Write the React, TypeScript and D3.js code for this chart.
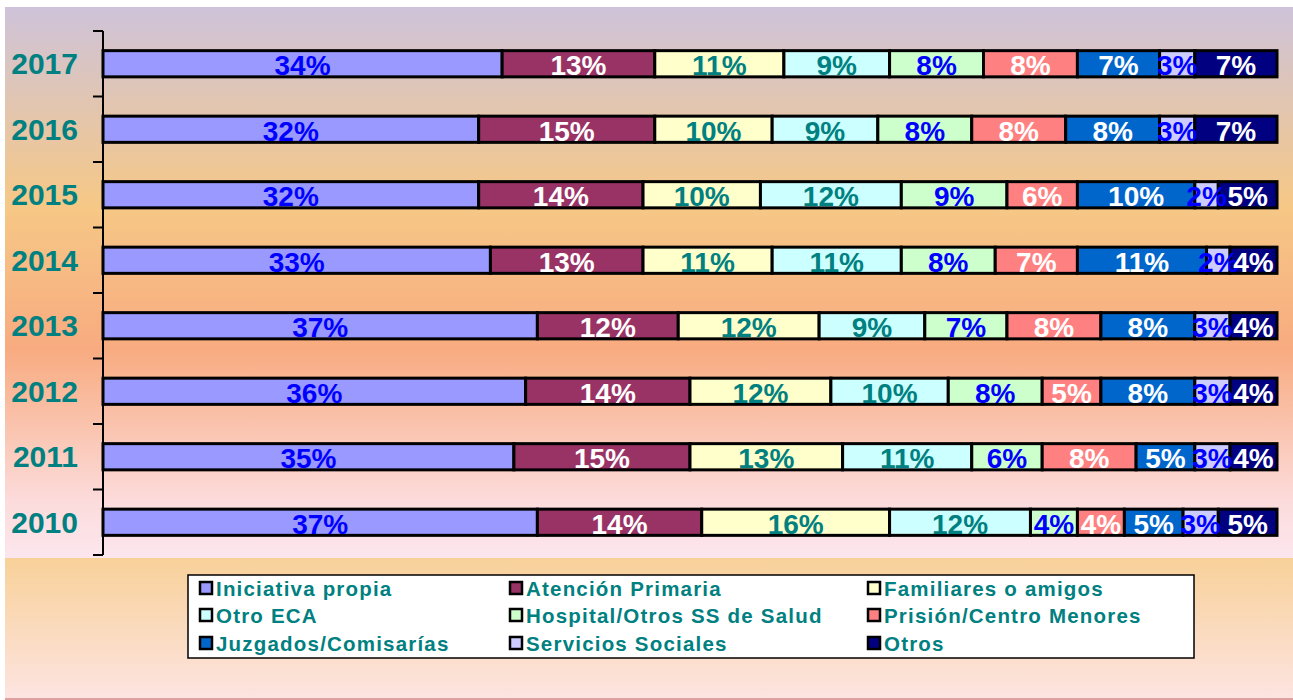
import * as d3 from "d3";
import React from "react";

// years top to bottom
const years = ["2017", "2016", "2015", "2014", "2013", "2012", "2011", "2010"];

const seriesNames = [
	"Iniciativa propia",
	"Atención Primaria",
	"Familiares o amigos",
	"Otro ECA",
	"Hospital/Otros SS de Salud",
	"Prisión/Centro Menores",
	"Juzgados/Comisarías",
	"Servicios Sociales",
	"Otros",
];

const iniciativa = [34, 32, 32, 33, 37, 36, 35, 37];
const atencion = [13, 15, 14, 13, 12, 14, 15, 14];
const familiares = [11, 10, 10, 11, 12, 12, 13, 16];
const otroEca = [9, 9, 12, 11, 9, 10, 11, 12];
const hospital = [8, 8, 9, 8, 7, 8, 6, 4];
const prision = [8, 8, 6, 7, 8, 5, 8, 4];
const juzgados = [7, 8, 10, 11, 8, 8, 5, 5];
const servicios = [3, 3, 2, 2, 3, 3, 3, 3];
const otros = [7, 7, 5, 4, 4, 4, 4, 5];

const seriesValues = [iniciativa, atencion, familiares, otroEca, hospital, prision, juzgados, servicios, otros];

const fills = ["#9999FF", "#993366", "#FFFFCC", "#CCFFFF", "#CCFFCC", "#FF8080", "#0066CC", "#CCCCFF", "#000080"];
const labelColors = ["#0000FF", "#FFFFFF", "#008080", "#008080", "#0000FF", "#FFFFFF", "#FFFFFF", "#0000FF", "#FFFFFF"];

const W = 1293;
const H = 700;
const font = "'Liberation Sans', Arial, sans-serif";

const App = () => {
	const table = years.map((yr, i) => {
		const row: Record<string, any> = { year: yr };
		seriesNames.forEach((s, k) => (row[s] = seriesValues[k][i]));
		return row;
	});
	const stacked = d3.stack<any>().keys(seriesNames)(table);

	const x = d3.scaleLinear().domain([0, 100]).range([103, 1277]);
	const y = d3
		.scaleBand()
		.domain(years)
		.range([31, 555])
		.paddingInner(0.6)
		.paddingOuter(0.3);

	const tickYs = d3.range(years.length + 1).map((i) => y.range()[0] + i * y.step());

	const legendCols = [200, 510, 868];
	const legendRows = [588, 615, 643];

	return (
		<svg
			width={W}
			height={H}
			style={{ position: "absolute", left: 0, top: 0 }}
			fontFamily={font}
		>
			<defs>
				<linearGradient id="bgTop" x1="0" y1="0" x2="0" y2="1">
					<stop offset="0" stopColor="#CEC3DA" />
					<stop offset="0.36" stopColor="#F6C886" />
					<stop offset="0.62" stopColor="#F8AB80" />
					<stop offset="0.9" stopColor="#FCDCDC" />
					<stop offset="1" stopColor="#FCE6EE" />
				</linearGradient>
				<linearGradient id="bgBottom" x1="0" y1="0" x2="0" y2="1">
					<stop offset="0" stopColor="#F8D199" />
					<stop offset="1" stopColor="#FDE4E2" />
				</linearGradient>
			</defs>
			<rect x={0} y={0} width={W} height={H} fill="#FFFFFF" />
			<rect x={5} y={7} width={W - 5} height={551} fill="url(#bgTop)" />
			<rect x={5} y={558} width={W - 5} height={H - 558} fill="url(#bgBottom)" />
			<line x1={5} x2={W} y1={H - 1} y2={H - 1} stroke="#E0A0A0" strokeWidth={2} />

			{/* bars */}
			{stacked.map((layer, k) => (
				<g key={layer.key}>
					{layer.map((d, i) => (
						<rect
							key={years[i]}
							x={x(d[0])}
							y={y(years[i])!}
							width={x(d[1]) - x(d[0])}
							height={y.bandwidth()}
							fill={fills[k]}
							stroke="#000"
							strokeWidth={3}
						/>
					))}
				</g>
			))}

			{/* segment labels */}
			{stacked.map((layer, k) => (
				<g key={"lbl" + layer.key}>
					{layer.map((d, i) => (
						<text
							key={years[i]}
							x={(x(d[0]) + x(d[1])) / 2}
							y={y(years[i])! + y.bandwidth() / 2 + 2}
							textAnchor="middle"
							dominantBaseline="central"
							fontSize={28}
							fontWeight="bold"
							fill={labelColors[k]}
						>
							{seriesValues[k][i]}%
						</text>
					))}
				</g>
			))}

			{/* axis */}
			<line x1={103} x2={103} y1={tickYs[0]} y2={tickYs[tickYs.length - 1]} stroke="#000" strokeWidth={2} />
			{tickYs.map((t, i) => (
				<line key={i} x1={93} x2={103} y1={t} y2={t} stroke="#000" strokeWidth={2} />
			))}
			{years.map((yr) => (
				<text
					key={yr}
					x={78}
					y={y(yr)! + y.bandwidth() / 2}
					textAnchor="end"
					dominantBaseline="central"
					fontSize={30}
					fontWeight="bold"
					fill="#008080"
				>
					{yr}
				</text>
			))}

			{/* legend */}
			<rect x={188} y={575} width={1006} height={83} fill="#FFFFFF" stroke="#000" strokeWidth={1.5} />
			{seriesNames.map((s, i) => {
				const lx = legendCols[i % 3];
				const ly = legendRows[Math.floor(i / 3)];
				return (
					<g key={s}>
						<rect x={lx} y={ly - 6} width={12} height={12} fill={fills[i]} stroke="#000" strokeWidth={2.5} />
						<text
							x={lx + 16}
							y={ly}
							dominantBaseline="central"
							fontSize={20.5}
							fontWeight="bold"
							letterSpacing={1.2}
							fill="#008080"
						>
							{s}
						</text>
					</g>
				);
			})}
		</svg>
	);
};

export default App;
